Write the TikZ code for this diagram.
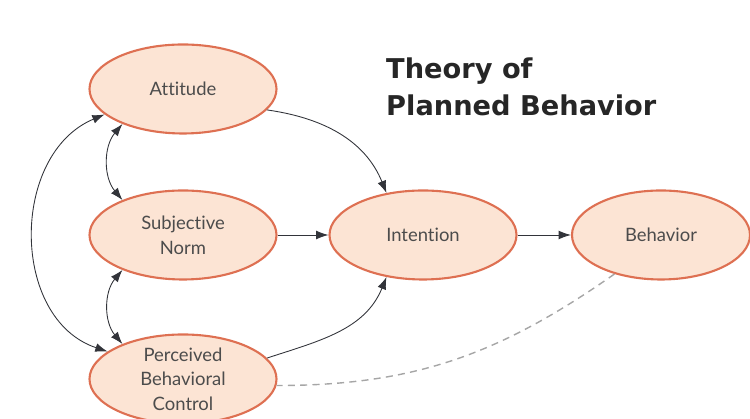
\documentclass[tikz,border=0pt]{standalone}
\usepackage{fontspec}
\setsansfont{Lato}[Ligatures=NoCommon]
\newfontfamily\titlefont{DejaVu Sans}
\usetikzlibrary{arrows.meta,shapes.geometric}
\definecolor{tpbfill}{RGB}{252,228,212}
\definecolor{tpbline}{RGB}{222,112,82}
\definecolor{tpblink}{RGB}{50,52,58}

\begin{document}
\begin{tikzpicture}
[tn/.style={ellipse,draw=tpbline,fill=tpbfill,line width=1.2pt,inner sep=0pt
  ,minimum width=3.74cm,minimum height=1.78cm,align=center
  ,font=\sffamily\fontsize{10.5}{14}\selectfont,text=black!70}
,link/.style={draw=tpblink,line width=0.5pt,arrows={-Latex[length=7pt,width=5pt]}}
,both/.style={link,arrows={Latex[length=7pt,width=5pt]-Latex[length=7pt,width=5pt]}}
,fb/.style={draw=black!35,line width=0.8pt,dash pattern=on 4pt off 3pt}
]
\useasboundingbox (0,0) rectangle (15,8.38);
\node[tn] (att) at (3.66,6.6) {Attitude};
\node[tn] (sn) at (3.66,3.68) {Subjective\\Norm};
\node[tn] (pbc) at (3.66,0.8) {Perceived\\Behavioral\\Control};
\node[tn] (int) at (8.46,3.68) {Intention};
\node[tn,minimum width=3.56cm] (beh) at (13.22,3.68) {Behavior};
\node[anchor=north west,align=left,font=\titlefont\bfseries\fontsize{15.5}{21}\selectfont,text=black!85]
  (title) at (7.6,7.34) {Theory of\\Planned Behavior};
\draw[link] (att.-14) to[out=-8,in=112] (int.131);
\draw[link] (sn) -- (int);
\draw[link] (pbc.14) to[out=18,in=-112] (int.-131);
\draw[link] (int) -- (beh);
\draw[fb] (beh.-140) to[out=-145,in=0] (pbc.-4);
\draw[both] (att.-150) to[bend right=40] (sn.150);
\draw[both] (sn.-150) to[bend right=40] (pbc.150);
\draw[both] (att.-162) .. controls (0.2,5.3) and (0.2,2.0) .. (pbc.160);
\end{tikzpicture}
\end{document}
